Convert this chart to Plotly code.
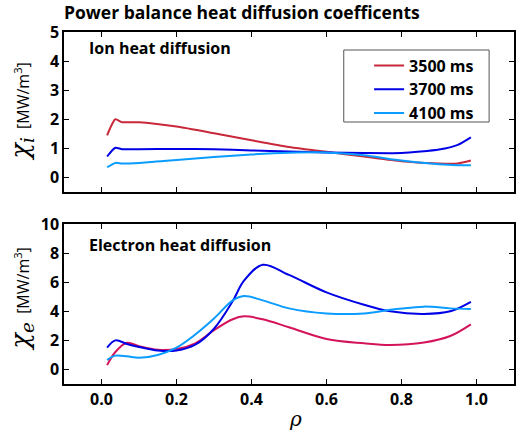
import plotly.graph_objects as go

# ---- data ----
rho_i = [0.015, 0.037, 0.055, 0.1, 0.2, 0.3, 0.4, 0.5, 0.6, 0.7, 0.8, 0.9, 0.95, 0.985]
chi_i_3500 = [1.45, 2.0, 1.9, 1.9, 1.75, 1.52, 1.28, 1.05, 0.88, 0.72, 0.56, 0.48, 0.48, 0.58]
chi_i_3700 = [0.72, 1.02, 0.97, 0.97, 0.98, 0.97, 0.93, 0.89, 0.86, 0.84, 0.84, 0.96, 1.12, 1.38]
chi_i_4100 = [0.35, 0.5, 0.48, 0.5, 0.6, 0.7, 0.79, 0.85, 0.86, 0.76, 0.58, 0.45, 0.42, 0.42]

rho_e = [0.015, 0.037, 0.068, 0.1, 0.15, 0.2, 0.25, 0.3, 0.35, 0.38, 0.43, 0.5, 0.6, 0.7, 0.77, 0.86, 0.93, 0.985]
chi_e_3500 = [0.3, 1.2, 1.83, 1.6, 1.35, 1.4, 1.8, 2.7, 3.45, 3.65, 3.45, 2.9, 2.1, 1.8, 1.68, 1.85, 2.3, 3.1]
chi_e_3700 = [1.5, 2.0, 1.75, 1.55, 1.3, 1.3, 1.7, 2.8, 4.7, 6.1, 7.2, 6.5, 5.3, 4.45, 4.0, 3.82, 4.0, 4.65]
chi_e_4100 = [0.65, 0.95, 0.9, 0.8, 1.0, 1.5, 2.4, 3.5, 4.75, 5.05, 4.75, 4.2, 3.85, 3.85, 4.1, 4.32, 4.2, 4.15]

labels = ["3500 ms", "3700 ms", "4100 ms"]
colors_top = ["#c8283a", "#0000e6", "#0a9cff"]
colors_bot = ["#d4145a", "#0000e6", "#0a9cff"]

FONT = "Open Sans"

fig = go.Figure()
for lab, y, c in zip(labels, [chi_i_3500, chi_i_3700, chi_i_4100], colors_top):
    fig.add_trace(go.Scatter(x=rho_i, y=y, mode="lines", name=lab,
                             line=dict(color=c, width=2, shape="spline", smoothing=0.6),
                             xaxis="x", yaxis="y"))
for lab, y, c in zip(labels, [chi_e_3500, chi_e_3700, chi_e_4100], colors_bot):
    fig.add_trace(go.Scatter(x=rho_e, y=y, mode="lines", name=lab, showlegend=False,
                             line=dict(color=c, width=2, shape="spline", smoothing=1.0),
                             xaxis="x2", yaxis="y2"))

axis_common = dict(showline=True, linecolor="black", linewidth=1.5, mirror="ticks",
                   ticks="inside", ticklen=5, tickwidth=1.2, tickcolor="black",
                   showgrid=False, zeroline=False,
                   tickfont=dict(family=FONT, size=16, color="black", weight="bold"))

fig.update_layout(
    width=517, height=433,
    margin=dict(l=64, r=1, t=32, b=49),
    paper_bgcolor="white", plot_bgcolor="white",
    font=dict(family=FONT, color="black"),
    xaxis=dict(domain=[0, 1], range=[-0.1, 1.1], anchor="y", showticklabels=False,
               tickvals=[0, 0.2, 0.4, 0.6, 0.8, 1.0], **axis_common),
    yaxis=dict(domain=[0.5455, 1], range=[-0.5, 5], anchor="x",
               tickvals=[0, 1, 2, 3, 4, 5], **axis_common),
    xaxis2=dict(domain=[0, 1], range=[-0.1, 1.1], anchor="y2",
                tickvals=[0, 0.2, 0.4, 0.6, 0.8, 1.0],
                ticktext=["0.0", "0.2", "0.4", "0.6", "0.8", "1.0"], **axis_common),
    yaxis2=dict(domain=[0, 0.4545], range=[-1, 10], anchor="x2",
                tickvals=[0, 2, 4, 6, 8, 10], **axis_common),
    legend=dict(x=0.678, y=0.953, xanchor="left", yanchor="top",
                bgcolor="rgba(0,0,0,0)", borderwidth=0,
                font=dict(family=FONT, size=16, color="black", weight="bold"),
                itemwidth=30, tracegroupgap=0),
    showlegend=True,
    shapes=[dict(type="rect", xref="paper", yref="paper",
                 x0=(345 - 64) / 452, x1=(491 - 64) / 452,
                 y0=(384 - 122) / 352, y1=(384 - 50) / 352,
                 line=dict(color="#555555", width=1), fillcolor="rgba(0,0,0,0)",
                 layer="above")],
)

fig.add_annotation(xref="paper", yref="paper", x=-0.005, y=1.0, yshift=20,
                   xanchor="left", yanchor="middle", showarrow=False,
                   text="<b>Power balance heat diffusion coefficents</b>",
                   font=dict(family=FONT, size=17.5, color="black"))
fig.add_annotation(xref="paper", yref="paper", x=0.05, y=0.955,
                   xanchor="left", yanchor="middle", showarrow=False,
                   text="<b>Ion heat diffusion</b>",
                   font=dict(family=FONT, size=16, color="black"))
fig.add_annotation(xref="paper", yref="paper", x=0.05, y=0.395,
                   xanchor="left", yanchor="middle", showarrow=False,
                   text="<b>Electron heat diffusion</b>",
                   font=dict(family=FONT, size=16, color="black"))

ytitle_i = ("<span style='font-family:DejaVu Serif;font-size:26px'><i>χ<sub>i</sub></i></span>"
            "  [MW/m<sup>3</sup>]")
ytitle_e = ("<span style='font-family:DejaVu Serif;font-size:26px'><i>χ<sub>e</sub></i></span>"
            "  [MW/m<sup>3</sup>]")
fig.add_annotation(xref="paper", yref="paper", x=-0.095, y=0.774, xanchor="center",
                   yanchor="middle", textangle=-90, showarrow=False, text=ytitle_i,
                   font=dict(family=FONT, size=16, color="black"))
fig.add_annotation(xref="paper", yref="paper", x=-0.095, y=0.243, xanchor="center",
                   yanchor="middle", textangle=-90, showarrow=False, text=ytitle_e,
                   font=dict(family=FONT, size=16, color="black"))
fig.add_annotation(xref="paper", yref="paper", x=0.515, y=-0.1, xanchor="center",
                   yanchor="middle", showarrow=False,
                   text="<i>ρ</i>",
                   font=dict(family="DejaVu Serif", size=20, color="black"))

fig.write_html("out.html")
